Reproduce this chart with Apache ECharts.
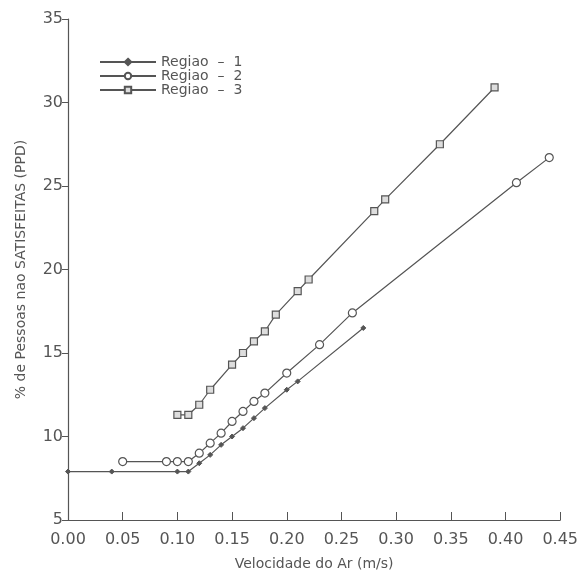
<!DOCTYPE html>
<html>
<head>
<meta charset="utf-8">
<script src="https://cdn.jsdelivr.net/npm/echarts@6/dist/echarts.min.js"></script>
<style>
html,body{margin:0;padding:0;background:#fff;}
#chart{width:581px;height:576px;}
</style>
</head>
<body>
<div id="chart"></div>
<script>
var seriesNames = ['Regiao  \u2013  1', 'Regiao  \u2013  2', 'Regiao  \u2013  3'];
var xTicks = [0, 0.05, 0.10, 0.15, 0.20, 0.25, 0.30, 0.35, 0.40, 0.45];
var yTicks = [5, 10, 15, 20, 25, 30, 35];

var regiao1X = [0.00, 0.04, 0.10, 0.11, 0.12, 0.13, 0.14, 0.15, 0.16, 0.17, 0.18, 0.20, 0.21, 0.27];
var regiao1Y = [7.9, 7.9, 7.9, 7.9, 8.4, 8.9, 9.5, 10.0, 10.5, 11.1, 11.7, 12.8, 13.3, 16.5];

var regiao2X = [0.05, 0.09, 0.10, 0.11, 0.12, 0.13, 0.14, 0.15, 0.16, 0.17, 0.18, 0.20, 0.23, 0.26, 0.41, 0.44];
var regiao2Y = [8.5, 8.5, 8.5, 8.5, 9.0, 9.6, 10.2, 10.9, 11.5, 12.1, 12.6, 13.8, 15.5, 17.4, 25.2, 26.7];

var regiao3X = [0.10, 0.11, 0.12, 0.13, 0.15, 0.16, 0.17, 0.18, 0.19, 0.21, 0.22, 0.28, 0.29, 0.34, 0.39];
var regiao3Y = [11.3, 11.3, 11.9, 12.8, 14.3, 15.0, 15.7, 16.3, 17.3, 18.7, 19.4, 23.5, 24.2, 27.5, 30.9];

function pairs(xs, ys) { return xs.map(function (x, i) { return [x, ys[i]]; }); }

var ink = '#555';
var fontFam = 'DejaVu Sans, sans-serif';
var chart = echarts.init(document.getElementById('chart'));
chart.setOption({
  backgroundColor: '#fff',
  animation: false,
  grid: { left: 68, right: 19, top: 19, bottom: 56 },
  legend: {
    orient: 'vertical',
    left: 94, top: 50,
    itemWidth: 56, itemHeight: 8, itemGap: 0,
    textStyle: { color: ink, fontSize: 14, fontFamily: fontFam },
    data: seriesNames
  },
  xAxis: {
    type: 'value', min: 0, max: 0.45, interval: 0.05,
    name: 'Velocidade do Ar (m/s)', nameLocation: 'middle', nameGap: 37,
    nameTextStyle: { color: ink, fontSize: 14, fontFamily: fontFam },
    axisLine: { lineStyle: { color: ink, width: 1.2 } },
    axisTick: { inside: true, length: 8, lineStyle: { color: ink } },
    axisLabel: { color: ink, fontSize: 16, fontFamily: fontFam, margin: 12,
      formatter: function (v) { return v.toFixed(2); } },
    splitLine: { show: false }
  },
  yAxis: {
    type: 'value', min: 5, max: 35, interval: 5,
    name: '% de Pessoas nao SATISFEITAS (PPD)', nameLocation: 'middle', nameGap: 40,
    nameTextStyle: { color: ink, fontSize: 14, fontFamily: fontFam },
    axisLine: { show: true, lineStyle: { color: ink, width: 1.2 } },
    axisTick: { show: true, inside: false, length: 6, lineStyle: { color: ink } },
    axisLabel: { color: ink, fontSize: 16, fontFamily: fontFam, margin: 5 },
    splitLine: { show: false }
  },
  series: [
    {
      name: seriesNames[0], type: 'line', data: pairs(regiao1X, regiao1Y),
      symbol: 'diamond', symbolSize: 5,
      lineStyle: { color: ink, width: 1.2 },
      itemStyle: { color: ink, borderColor: ink, borderWidth: 1 }
    },
    {
      name: seriesNames[1], type: 'line', data: pairs(regiao2X, regiao2Y),
      symbol: 'circle', symbolSize: 8,
      lineStyle: { color: ink, width: 1.2 },
      itemStyle: { color: '#fff', borderColor: ink, borderWidth: 1.2 }
    },
    {
      name: seriesNames[2], type: 'line', data: pairs(regiao3X, regiao3Y),
      symbol: 'rect', symbolSize: 7,
      lineStyle: { color: ink, width: 1.2 },
      itemStyle: { color: '#ddd', borderColor: ink, borderWidth: 1.2 }
    }
  ]
});
</script>
</body>
</html>
